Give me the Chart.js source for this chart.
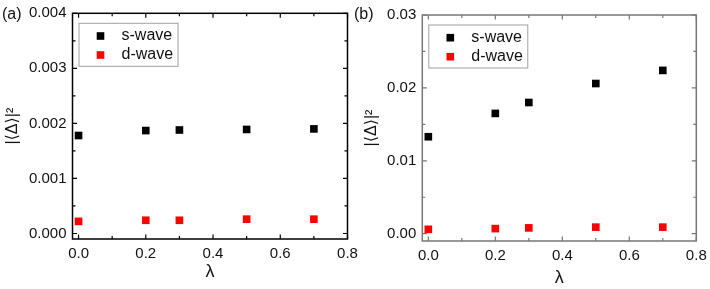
<!DOCTYPE html>
<html>
<head>
<meta charset="utf-8">
<script src="https://cdn.jsdelivr.net/npm/chart.js@4.4.1/dist/chart.umd.min.js"></script>
<style>
    body { margin: 0; background: #fff; }
    .panel { position: absolute; top: 0; height: 289px; }
</style>
</head>
<body>
<div class="panel" style="left:0; width:370px"><canvas id="chartA"></canvas></div>
<div class="panel" style="left:350px; width:360px"><canvas id="chartB"></canvas></div>
<script>
// valores
const lambdas = [0.0, 0.2, 0.3, 0.5, 0.7];
const sWaveA = [0.00178, 0.00187, 0.00188, 0.00189, 0.00190];
const dWaveA = [0.00022, 0.00024, 0.00024, 0.00026, 0.00026];
const sWaveB = [0.0133, 0.0165, 0.0180, 0.0206, 0.0224];
const dWaveB = [0.0006, 0.0007, 0.0008, 0.0009, 0.0009];

const xTicks = [0, 0.2, 0.4, 0.6, 0.8];
const xMinor = [0.1, 0.3, 0.5, 0.7];
const yTicksA = [0, 0.001, 0.002, 0.003, 0.004];
const yMinorA = [0.0005, 0.0015, 0.0025, 0.0035];
const yTicksB = [0, 0.01, 0.02, 0.03];
const yMinorB = [0.005, 0.015, 0.025];

const FONT = "'Liberation Sans', Arial, 'DejaVu Sans', sans-serif";

// moldura com ticks para dentro + legenda + rótulo do painel
const framePlugin = {
    id: 'frame',
    afterDraw(chart, args, o) {
        const { ctx, chartArea: a, scales: { x, y } } = chart;
        ctx.save();

        // legenda
        const lx = a.left + 6, ly = a.top + 9.5;
        ctx.strokeStyle = '#a0a0a0';
        ctx.lineWidth = 1;
        ctx.strokeRect(lx + 0.5, ly + 0.5, 99, 43);
        ctx.font = '16px ' + FONT;
        ctx.textBaseline = 'middle';
        chart.data.datasets.forEach((ds, i) => {
            const cy = a.top + 22.7 + i * 19;
            ctx.fillStyle = ds.backgroundColor;
            ctx.fillRect(a.left + 28 - 3.8, cy - 3.8, 7.6, 7.6);
            ctx.fillStyle = '#111';
            ctx.fillText(ds.label, a.left + 49, cy);
        });

        // caixa
        ctx.strokeStyle = o.color;
        ctx.lineWidth = 1.5;
        ctx.strokeRect(a.left, a.top, a.right - a.left, a.bottom - a.top);

        ctx.lineWidth = 1.2;
        ctx.beginPath();
        const xt = (vals, len) => vals.forEach(v => {
            const px = x.getPixelForValue(v);
            ctx.moveTo(px, a.bottom); ctx.lineTo(px, a.bottom - len);
            ctx.moveTo(px, a.top); ctx.lineTo(px, a.top + len);
        });
        const yt = (vals, len) => vals.forEach(v => {
            const py = y.getPixelForValue(v);
            ctx.moveTo(a.left, py); ctx.lineTo(a.left + len, py);
            ctx.moveTo(a.right, py); ctx.lineTo(a.right - len, py);
        });
        xt(xTicks, 4.5); xt(xMinor, 3);
        yt(o.yMajor, 4.5); yt(o.yMinor, 3);
        ctx.stroke();

        // (a) / (b)
        ctx.fillStyle = '#111';
        ctx.font = '16px ' + FONT;
        ctx.textBaseline = 'middle';
        ctx.fillText(o.tag, o.tagX, o.tagY);
        ctx.restore();
    }
};

function criarPainel(id, p) {
    const ctx = document.getElementById(id).getContext('2d');
    return new Chart(ctx, {
        type: 'scatter',
        data: {
            datasets: [
                { label: 's-wave', data: lambdas.map((l, i) => ({ x: l, y: p.s[i] })), backgroundColor: '#000', borderColor: '#000' },
                { label: 'd-wave', data: lambdas.map((l, i) => ({ x: l, y: p.d[i] })), backgroundColor: '#ff0000', borderColor: '#ff0000' }
            ]
        },
        options: {
            responsive: true,
            maintainAspectRatio: false,
            animation: false,
            layout: { padding: { left: 0, right: p.padRight, top: p.padTop, bottom: 0 } },
            elements: { point: { pointStyle: 'rect', radius: 5.4, borderWidth: 0, hoverRadius: 5.4 } },
            clip: false,
            plugins: {
                legend: { display: false },
                tooltip: { enabled: false },
                frame: { color: p.frameColor, yMajor: p.yTicks, yMinor: p.yMinor, tag: p.tag, tagX: p.tagX, tagY: p.tagY }
            },
            scales: {
                x: {
                    type: 'linear', min: -0.018, max: 0.8,
                    afterBuildTicks: s => { s.ticks = xTicks.map(v => ({ value: v })); },
                    afterFit: s => { s.height = p.xHeight; s.paddingLeft = 0; s.paddingRight = 0; },
                    grid: { display: false, drawTicks: false },
                    border: { display: false },
                    ticks: { color: '#111', padding: 6, maxRotation: 0, font: { family: FONT, size: 15 }, callback: v => v.toFixed(1) },
                    title: { display: true, text: 'λ', color: '#111', font: { family: FONT, size: 18 }, padding: { top: 0, bottom: p.lambdaPad } }
                },
                y: {
                    type: 'linear', min: p.yMin, max: p.yMax,
                    afterBuildTicks: s => { s.ticks = p.yTicks.map(v => ({ value: v })); },
                    afterFit: s => { s.width = p.yWidth; s.paddingTop = 0; s.paddingBottom = 0; },
                    grid: { display: false, drawTicks: false },
                    border: { display: false },
                    ticks: { color: '#111', padding: 6, font: { family: FONT, size: 15 }, callback: v => v.toFixed(p.dec) },
                    title: { display: true, text: '|⟨Δ⟩|²', color: '#111', font: { family: FONT, size: 16 }, padding: { top: p.titlePad, bottom: 0 } }
                }
            }
        },
        plugins: [framePlugin]
    });
}

document.addEventListener('DOMContentLoaded', () => {
    criarPainel('chartA', {
        s: sWaveA, d: dWaveA, yMin: -0.0001, yMax: 0.004, yTicks: yTicksA, yMinor: yMinorA, dec: 3,
        yWidth: 72.5, xHeight: 50, padRight: 22.5, padTop: 13.3, titlePad: 2.5, lambdaPad: 6.5,
        frameColor: '#000', tag: '(a)', tagX: 2, tagY: 15
    });
    criarPainel('chartB', {
        s: sWaveB, d: dWaveB, yMin: -0.001, yMax: 0.03, yTicks: yTicksB, yMinor: yMinorB, dec: 2,
        yWidth: 72.3, xHeight: 48, padRight: 13.7, padTop: 15, titlePad: 12, lambdaPad: 0.5,
        frameColor: '#777', tag: '(b)', tagX: 4, tagY: 15
    });
});
</script>
</body>
</html>
